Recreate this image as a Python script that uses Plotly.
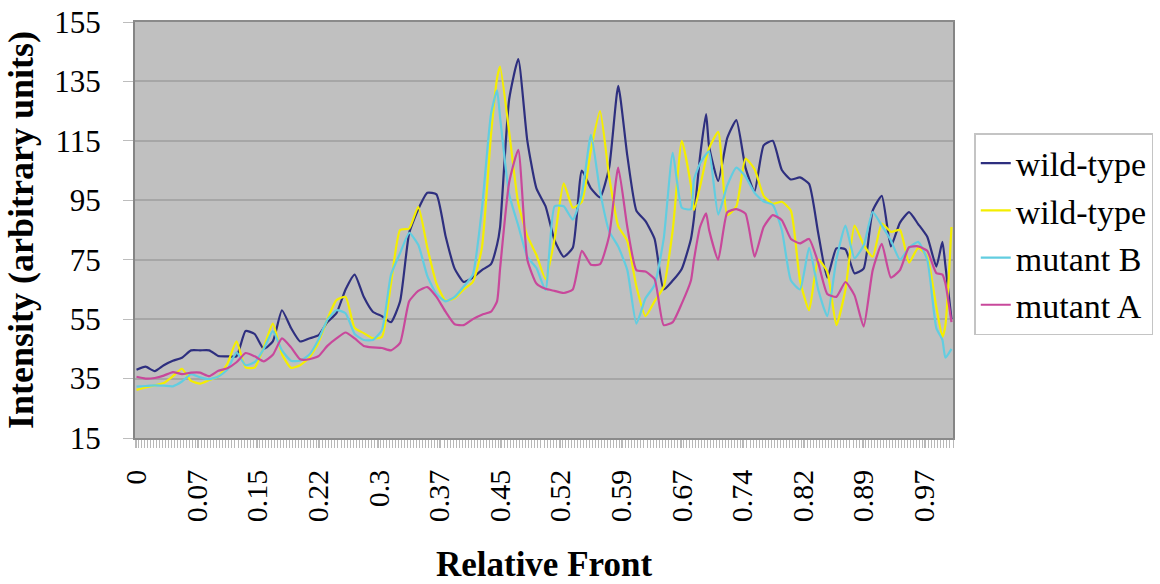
import plotly.graph_objects as go

# Relative Front is sampled on 270 evenly spaced categories (index 0..269)
N_CATEGORIES = 270
front_labels = ["0", "0.07", "0.15", "0.22", "0.3", "0.37", "0.45",
                "0.52", "0.59", "0.67", "0.74", "0.82", "0.89", "0.97"]
label_every = 20

# Category indices at which each profile is recorded
front_idx = [0, 3, 6, 9, 12, 15, 18, 21, 24, 27, 30, 33, 36, 39, 42, 45, 48, 51, 54, 57,
             60, 63, 66, 69, 72, 75, 78, 81, 84, 87, 90, 93, 96, 99, 102, 105, 108, 111, 114, 117,
             119, 120, 123, 126, 129, 132, 135, 138, 141, 144, 147, 150, 153, 156, 159, 162, 165, 168,
             171, 174, 177, 180, 183, 184, 186, 188, 189, 192, 195, 198, 201, 204, 207, 210, 213, 216,
             219, 222, 225, 228, 231, 234, 237, 240, 243, 246, 249, 252, 255, 258, 261, 264, 266, 267, 269]

wild_type_1 = [38, 39, 37.5, 39.5, 41, 42, 44.5, 44.5, 44.5, 42.6, 42.5, 42.5, 51, 50, 45, 47.5, 58, 52, 47.5, 48.5,
               49.5, 54, 57, 65, 70, 62.5, 57.5, 56, 54, 61, 84, 92, 97.5, 97, 83, 72, 67.5, 69, 71.5, 73.5,
               80, 86, 129, 142.5, 115, 99, 93, 81.5, 76, 79, 105, 99, 96, 106, 133.5, 110, 91.5, 88,
               82, 65, 68, 72, 82, 89, 109.7, 124, 113, 101.5, 116, 122, 106, 98, 113.5, 115, 105.2, 102,
               102.7, 100.5, 84, 69, 78.8, 78.5, 70.4, 72, 91.5, 96.5, 79.5, 87.5, 91, 87, 82.7, 72.7, 81, 73, 55]

wild_type_2 = [31.2, 32, 32.7, 33.5, 35.8, 38.3, 34.2, 33.3, 34.5, 35.7, 40, 47.5, 38.8, 38.7, 45.5, 53.5, 43.2, 38.6, 39.5, 42,
               47, 55, 61.4, 62.5, 52, 50.3, 48.6, 49, 67, 85, 85.5, 92.8, 79, 67, 61.3, 62, 65, 67.5, 79, 117,
               136, 140, 118, 94, 83, 76.6, 68.5, 82, 100.7, 92.5, 94.5, 112, 125, 103, 86.3, 81.3, 66, 56,
               61, 65.9, 85, 115, 100, 91.7, 99.6, 109, 112.5, 118, 90, 93, 109, 105.5, 96.5, 93.8, 94.5, 91.5,
               68, 58, 75, 71, 53, 65, 86.5, 80, 76, 87.2, 84.4, 85, 74, 79, 76, 59, 49, 53, 86]

mutant_b = [32.3, 32.5, 32.7, 32.6, 32.4, 34, 36.5, 35.4, 34.8, 35.7, 38, 43.8, 39.5, 40.5, 45, 51, 44.5, 41, 41, 43,
            48, 54.8, 58, 57, 50, 48, 48, 51.3, 70, 77.2, 84, 80, 69.5, 63.5, 61, 62.5, 66, 70, 92, 124,
            132, 123, 97, 86.5, 76, 72.2, 64.8, 93, 93, 88.5, 97, 117, 98, 84.6, 79.4, 71.5, 53.5, 62,
            66.5, 82, 111, 92.5, 92, 102, 107.4, 110.5, 111.5, 90.2, 100, 106, 103, 97.5, 94.6, 93.5, 85, 68,
            65, 79, 65, 56, 75, 86.5, 75.5, 79.8, 91, 86.5, 81.5, 75, 79, 81, 75, 52, 48, 42, 45]

mutant_a = [35.6, 35, 35.2, 36, 37.2, 36.5, 37, 37, 35.8, 37.6, 38.5, 40.5, 43.6, 42.5, 40.8, 43, 48.5, 45.5, 41.5, 41.5,
            42.5, 46, 48.5, 50.5, 48.5, 46, 45.5, 45.3, 44.5, 47, 61, 64.5, 65.8, 62.5, 57.5, 53.3, 53, 55, 56.5, 57.5,
            61, 72, 101, 112, 75, 67, 65.2, 64.5, 63.8, 65, 78, 73.3, 73.5, 83, 106, 86, 71.5, 71,
            68.5, 53, 54, 60.3, 68, 75, 86, 90.6, 85, 75, 91, 92, 90.5, 76, 86, 90, 88.3, 82,
            80.5, 82, 74, 63.5, 62.5, 67.5, 63, 52.5, 71.5, 80.3, 69, 71.5, 79.2, 79.5, 78, 70.5, 70, 67, 54]

series = [
    ("wild-type", wild_type_1, "#2E2F7F"),
    ("wild-type", wild_type_2, "#F4EE00"),
    ("mutant B", mutant_b, "#62CDE0"),
    ("mutant A", mutant_a, "#C8489B"),
]

last = N_CATEGORIES - 1
front = [i / last for i in front_idx]
tick_vals = [k * label_every / last for k in range(len(front_labels))]

SERIF = "Liberation Serif"

fig = go.Figure()
for name, values, color in series:
    fig.add_trace(go.Scatter(
        x=front, y=values, mode="lines", name=name,
        line=dict(color=color, width=2.2, shape="spline", smoothing=0.5),
    ))

fig.update_layout(
    width=1160, height=584,
    margin=dict(l=135, r=207, t=22, b=146, autoexpand=False),
    paper_bgcolor="white",
    plot_bgcolor="#C0C0C0",
    font=dict(family=SERIF, color="black"),
    showlegend=True,
    legend=dict(
        x=1.026, xanchor="left", y=0.733, yanchor="top",
        bgcolor="white", bordercolor="#C4C4C4", borderwidth=1.5,
        font=dict(family=SERIF, size=34, color="black"),
        tracegroupgap=0, itemwidth=30,
    ),
)

fig.update_xaxes(
    range=[-0.5 / last, (last + 0.5) / last],
    tickmode="array", tickvals=tick_vals, ticktext=front_labels,
    tickangle=-90,
    tickfont=dict(family=SERIF, size=30, color="black"),
    ticks="outside", ticklen=8, tickcolor="#B8B8B8", tickwidth=1,
    ticklabelstandoff=10,
    minor=dict(ticks="outside", ticklen=8, tickcolor="#B8B8B8", tickwidth=1,
               tick0=0.5 / last, dtick=1 / last, showgrid=False),
    showgrid=False, zeroline=False,
    showline=True, linecolor="#8A8A8A", linewidth=1.5, mirror=True,
    automargin=False,
    title=dict(text="Relative Front", standoff=30,
               font=dict(family=SERIF, size=35, color="black", weight="bold")),
)

fig.update_yaxes(
    range=[15, 155], tick0=15, dtick=20,
    tickfont=dict(family=SERIF, size=31, color="black"),
    ticks="outside", ticklen=10, tickcolor="#BDBDBD", tickwidth=1,
    ticklabelstandoff=16,
    showgrid=True, gridcolor="#A6A6A6", gridwidth=1.5,
    zeroline=False,
    showline=True, linecolor="#858585", linewidth=2, mirror=True,
    automargin=False,
    title=dict(text="Intensity (arbitrary units)", standoff=10,
               font=dict(family=SERIF, size=36, color="black", weight="bold")),
)

fig.write_html("out.html")
